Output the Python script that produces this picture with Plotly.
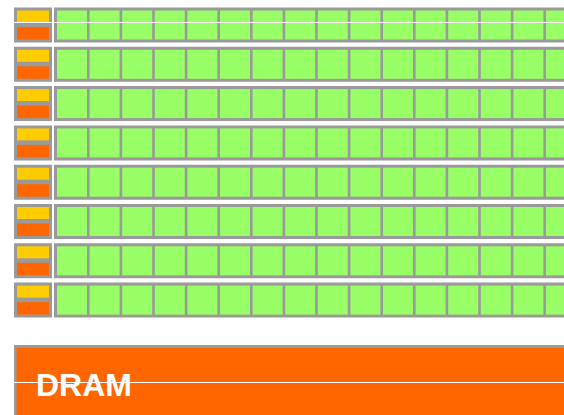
import plotly.graph_objects as go

# ---- data ----
sm_rows = ["SM1", "SM2", "SM3", "SM4", "SM5", "SM6", "SM7", "SM8"]
cores_per_row = list(range(16))
memory_label = ["DRAM"]
grid_marks = [22, 382]

# ---- styles / geometry ----
GREY = "#9a9a9a"
GREEN = "#99ff66"
YELLOW = "#ffcc00"
ORANGE = "#ff6600"
W, H = 564, 415
ROW_Y0, ROW_PITCH, ROW_H = 7.5, 39.3, 35
CTRL_X0, CTRL_X1 = 14, 52
ROW_X0, ROW_X1 = 54, 640
CELL_X0, CELL_PITCH, CELL_W = 57, 32.6, 30

shapes = []
def rect(x0, y0, x1, y1, color):
    shapes.append(dict(type="rect", xref="x", yref="y", x0=x0, y0=y0, x1=x1, y1=y1,
                       fillcolor=color, line=dict(width=0), layer="below"))

for i, _ in enumerate(sm_rows):
    top = ROW_Y0 + i * ROW_PITCH
    # control / cache box
    rect(CTRL_X0, top, CTRL_X1, top + ROW_H, GREY)
    rect(CTRL_X0 + 3, top + 3, CTRL_X1 - 3, top + 15, YELLOW)
    rect(CTRL_X0 + 3, top + 19.5, CTRL_X1 - 3, top + 32, ORANGE)
    # ALU row
    rect(ROW_X0, top, ROW_X1, top + ROW_H, GREY)
    for k in cores_per_row:
        x = CELL_X0 + k * CELL_PITCH
        rect(x, top + 3, x + CELL_W, top + ROW_H - 3, GREEN)

# DRAM
rect(14, 345, 640, 460, GREY)
rect(16.5, 348, 640, 460, ORANGE)

fig = go.Figure()
fig.add_trace(go.Scatter(x=[0], y=[0], mode="markers", marker=dict(opacity=0),
                         hoverinfo="skip", showlegend=False))
fig.update_layout(
    width=W, height=H, margin=dict(l=0, r=0, t=0, b=0),
    paper_bgcolor="white", plot_bgcolor="white",
    shapes=shapes, showlegend=False,
    annotations=[dict(x=34, y=385, xref="x", yref="y", text=memory_label[0],
                      showarrow=False, xanchor="left", yanchor="middle",
                      font=dict(family="Liberation Sans", size=32, color="white", weight="bold"))],
)
fig.update_xaxes(range=[0, W], showgrid=False, zeroline=False, showticklabels=False,
                 ticks="", showline=False, fixedrange=True)
fig.update_yaxes(range=[H, 0], tickvals=grid_marks, showgrid=True, gridcolor="white",
                 gridwidth=1, zeroline=False, showticklabels=False, ticks="",
                 showline=False, fixedrange=True)
fig.write_html("out.html", config={"displayModeBar": False},
               post_script="document.body.style.margin='0';document.body.style.overflow='hidden';")
